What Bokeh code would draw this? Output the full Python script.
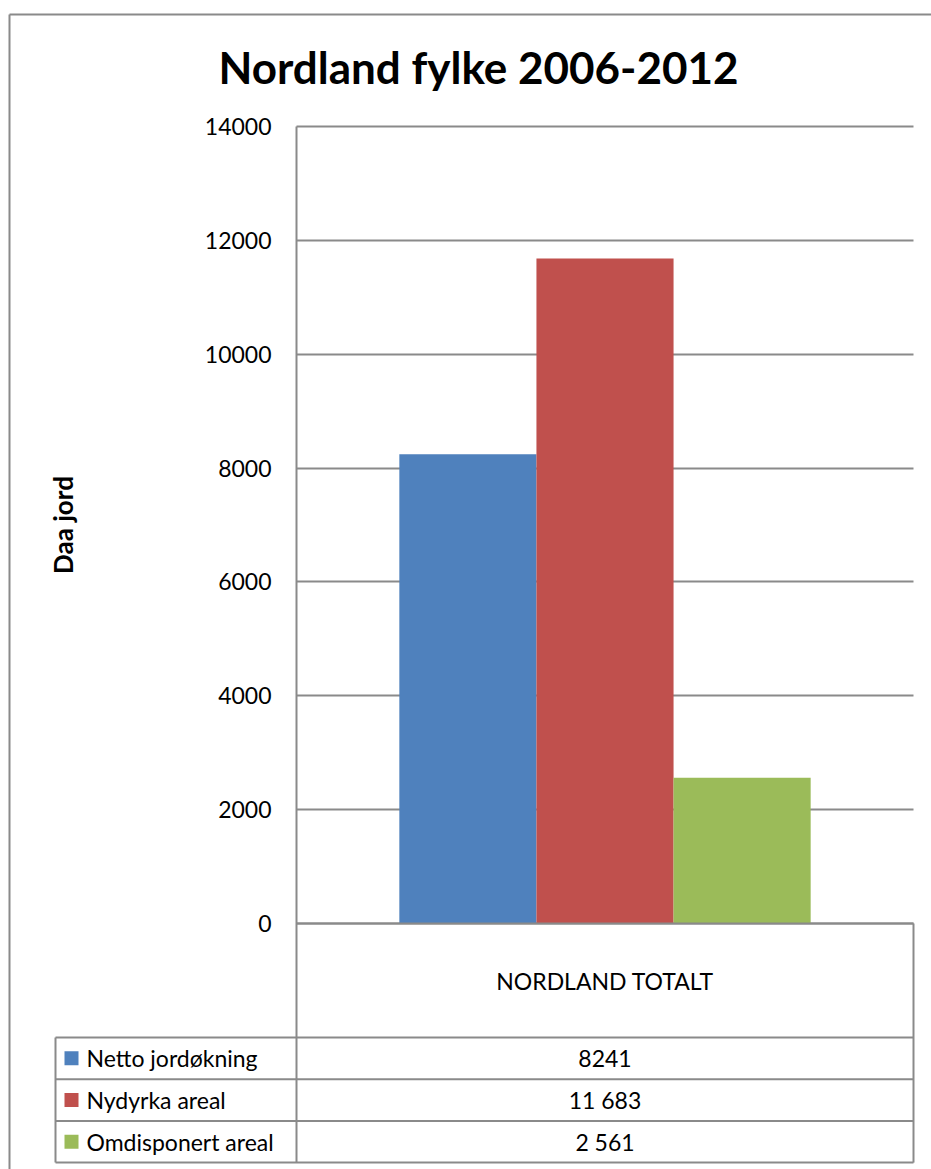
import math
from bokeh.plotting import figure
from bokeh.models import Range1d, FixedTicker
from bokeh.core.properties import value
from bokeh.embed import file_html
from bokeh.resources import INLINE

# ---------------- data ----------------
title_text = "Nordland fylke 2006-2012"
category = "NORDLAND TOTALT"
series = ["Netto jordøkning", "Nydyrka areal", "Omdisponert areal"]
values = [8241, 11683, 2561]
value_labels = ["8241", "11 683", "2 561"]
colors = ["#4F81BD", "#C0504D", "#9BBB59"]
y_ticks = [0, 2000, 4000, 6000, 8000, 10000, 12000, 14000]
y_label = "Daa jord"

# ---------------- layout (picture pixels) ----------------
W, H = 931, 1169
OFF = 0
PLOT_LEFT, PLOT_RIGHT = 296, 913
PLOT_TOP, PLOT_BOTTOM = 126, 923
Y_MAX = 14000
TABLE_LEFT = 55
HEADER_BOTTOM = 1037
ROW_H = 41.7
GRID = "#8a8a8a"
FONT = "Lato"
FS = "23px"

px_per_x = PLOT_RIGHT - PLOT_LEFT
px_per_y = (PLOT_BOTTOM - PLOT_TOP) / Y_MAX


def dx(px):
    return (px - PLOT_LEFT) / px_per_x


def dy(py):
    return (PLOT_BOTTOM - py) / px_per_y


p = figure(width=W, height=H,
           x_range=Range1d(dx(OFF), dx(OFF + W)),
           y_range=Range1d(dy(OFF + H), dy(OFF)),
           output_backend="svg", toolbar_location=None,
           min_border=0, min_border_left=0, min_border_right=0,
           min_border_top=0, min_border_bottom=0)
p.outline_line_color = None
p.background_fill_color = "white"
p.border_fill_color = "white"

n = len(series)
table_bottom = HEADER_BOTTOM + n * ROW_H

# grid
p.xgrid.visible = False
p.ygrid.ticker = FixedTicker(ticks=y_ticks)
p.ygrid.grid_line_color = GRID
p.ygrid.grid_line_width = 2
p.ygrid.cross_bounds = (0, 1)

# bars
gap = 1.5
bar_w = 1.0 / (n + gap)
xs = [gap / 2 * bar_w + (i + 0.5) * bar_w for i in range(n)]
p.vbar(x=xs, top=values, bottom=0, width=bar_w, fill_color=colors, line_color=None)

# y axis
ya = p.yaxis[0]
ya.fixed_location = 0
ya.ticker = FixedTicker(ticks=y_ticks)
ya.bounds = (dy(table_bottom), Y_MAX)
ya.axis_line_color = GRID
ya.axis_line_width = 2
ya.major_tick_in = 0
ya.major_tick_out = 0
ya.minor_tick_in = 0
ya.minor_tick_out = 0
ya.major_label_standoff = 25
ya.major_label_text_font = FONT
ya.major_label_text_font_size = FS
ya.major_label_text_color = "black"

# x axis (category header of the data table)
xa = p.xaxis[0]
xa.fixed_location = 0
xa.ticker = FixedTicker(ticks=[0.5])
xa.major_label_overrides = {0.5: category}
xa.bounds = (0, 1)
xa.axis_line_color = GRID
xa.axis_line_width = 2
xa.major_tick_in = 0
xa.major_tick_out = 0
xa.minor_tick_in = 0
xa.minor_tick_out = 0
xa.major_label_standoff = 43
xa.major_label_text_font = FONT
xa.major_label_text_font_size = FS
xa.major_label_text_color = "black"

# data table lines
line_ys = [HEADER_BOTTOM + i * ROW_H for i in range(n + 1)]
hx0 = [dx(TABLE_LEFT)] * len(line_ys)
hx1 = [dx(PLOT_RIGHT)] * len(line_ys)
hy = [dy(v) for v in line_ys]
p.segment(x0=hx0, y0=hy, x1=hx1, y1=hy, line_color=GRID, line_width=2)
p.segment(x0=[dx(TABLE_LEFT), dx(PLOT_RIGHT)],
          y0=[dy(HEADER_BOTTOM), dy(PLOT_BOTTOM)],
          x1=[dx(TABLE_LEFT), dx(PLOT_RIGHT)],
          y1=[dy(table_bottom), dy(table_bottom)],
          line_color=GRID, line_width=2)

row_centers = [dy(HEADER_BOTTOM + (i + 0.5) * ROW_H) for i in range(n)]
p.scatter(x=[dx(71)] * n, y=row_centers, marker="square", size=14,
          fill_color=colors, line_color=None)
p.text(x=[dx(86)] * n, y=row_centers, text=series,
       text_font=value(FONT), text_font_size=value(FS),
       text_align="left", text_baseline="middle", text_color="black")
p.text(x=[0.5] * n, y=row_centers, text=value_labels,
       text_font=value(FONT), text_font_size=value(FS),
       text_align="center", text_baseline="middle", text_color="black")

# titles
p.text(x=[dx(478)], y=[dy(66)], text=[title_text],
       text_font=value(FONT), text_font_style="bold", text_font_size=value("44px"),
       text_align="center", text_baseline="middle", text_color="black")
p.text(x=[dx(62)], y=[dy(524.5)], text=[y_label], angle=math.pi / 2,
       text_font=value(FONT), text_font_style="bold", text_font_size=value("26px"),
       text_align="center", text_baseline="middle", text_color="black")

# outer chart border
p.segment(x0=[dx(9), dx(9)], y0=[dy(14), dy(14)],
          x1=[dx(9), dx(OFF + W)], y1=[dy(OFF + H), dy(14)],
          line_color=GRID, line_width=2)

open("out.html", "w").write(file_html(p, INLINE))
